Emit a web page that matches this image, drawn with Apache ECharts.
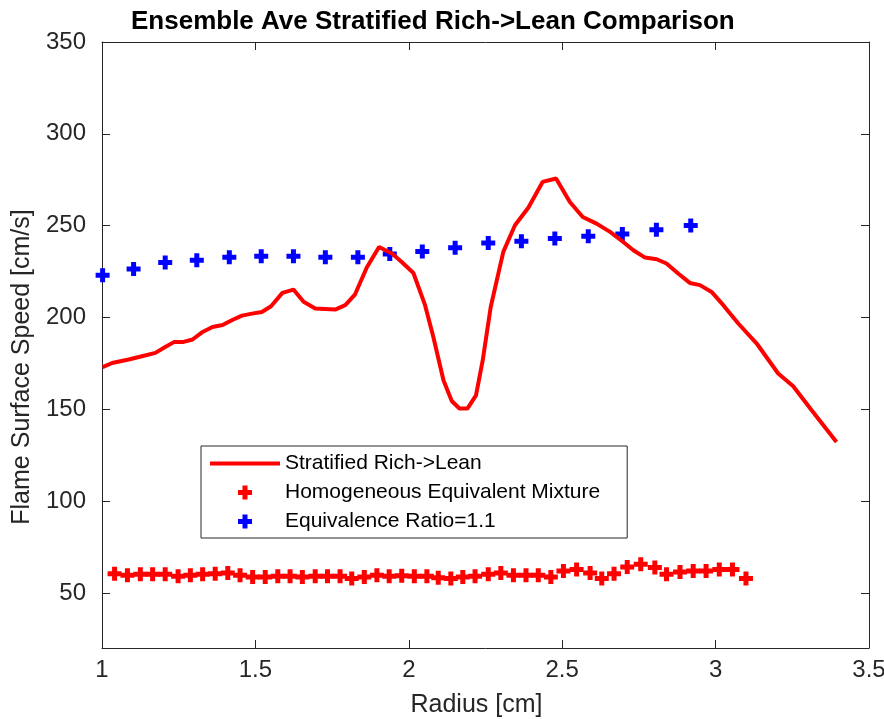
<!DOCTYPE html>
<html>
<head>
<meta charset="utf-8">
<title>Ensemble Ave Stratified Rich->Lean Comparison</title>
<script src="https://cdn.jsdelivr.net/npm/echarts@6.0.0/dist/echarts.min.js"></script>
<style>
    html, body { margin: 0; padding: 0; background: #fff; }
    #chart { width: 884px; height: 719px; }
</style>
</head>
<body>
<div id="chart"></div>
<script>
    // Stratified Rich->Lean (red line)
    var stratR = [1.002, 1.033, 1.087, 1.130, 1.174, 1.206, 1.236, 1.266, 1.295, 1.326,
        1.360, 1.393, 1.423, 1.456, 1.489, 1.521, 1.551, 1.588, 1.624, 1.657,
        1.695, 1.760, 1.793, 1.825, 1.863, 1.903, 1.945, 1.977, 2.015, 2.053,
        2.080, 2.113, 2.140, 2.165, 2.191, 2.219, 2.241, 2.267, 2.308, 2.346,
        2.390, 2.436, 2.480, 2.525, 2.567, 2.612, 2.656, 2.699, 2.732, 2.770,
        2.808, 2.840, 2.878, 2.916, 2.949, 2.987, 3.025, 3.074, 3.134, 3.204,
        3.253, 3.313, 3.394];
    var stratS = [173.0, 175.2, 177.1, 178.9, 180.7, 183.9, 186.7, 186.7, 188.0, 191.9,
        194.8, 195.9, 198.5, 201.0, 202.1, 203.0, 206.1, 213.4, 215.2, 208.5,
        204.9, 204.3, 206.7, 212.6, 227.2, 238.4, 234.8, 230.2, 224.2, 206.7,
        189.4, 165.8, 154.5, 150.4, 150.4, 157.6, 176.7, 205.7, 235.7, 250.2,
        259.9, 273.8, 275.7, 262.9, 254.7, 251.1, 246.6, 241.1, 236.6, 232.6,
        231.7, 229.4, 223.9, 218.8, 217.6, 213.9, 206.7, 196.7, 185.8, 169.5,
        162.5, 149.5, 132.2];

    // Homogeneous Equivalent Mixture (red +)
    var homR = [1.041, 1.083, 1.125, 1.165, 1.206, 1.248, 1.288, 1.328, 1.369, 1.410,
        1.450, 1.491, 1.532, 1.573, 1.613, 1.653, 1.695, 1.735, 1.776, 1.814,
        1.855, 1.896, 1.936, 1.977, 2.018, 2.059, 2.096, 2.137, 2.176, 2.216,
        2.259, 2.300, 2.341, 2.382, 2.422, 2.463, 2.504, 2.547, 2.591, 2.629,
        2.669, 2.712, 2.756, 2.802, 2.840, 2.884, 2.927, 2.969, 3.012, 3.055,
        3.099];
    var homS = [60.5, 59.6, 60.1, 60.1, 60.1, 59.1, 59.6, 60.1, 60.5, 60.9,
        59.6, 58.7, 58.7, 59.1, 59.1, 58.7, 59.1, 59.1, 59.1, 57.8,
        58.7, 59.6, 59.1, 59.4, 59.1, 59.1, 58.3, 57.8, 58.7, 59.1,
        60.1, 60.9, 59.6, 59.6, 59.6, 58.7, 61.9, 62.7, 60.9, 57.8,
        60.5, 64.1, 65.6, 63.8, 60.1, 61.4, 61.9, 61.9, 62.7, 62.7,
        57.8];

    // Equivalence Ratio=1.1 (blue +)
    var eqR = [1.002, 1.103, 1.206, 1.309, 1.415, 1.519, 1.624, 1.728, 1.834, 1.938,
        2.044, 2.151, 2.259, 2.367, 2.476, 2.585, 2.696, 2.807, 2.919];
    var eqS = [223.0, 226.4, 229.9, 231.2, 232.8, 233.3, 233.3, 232.8, 232.8, 234.6,
        235.9, 237.9, 240.6, 241.5, 243.0, 244.2, 245.5, 247.7, 250.1];

    var yTicks = [50, 100, 150, 200, 250, 300, 350];

    function pairs(xs, ys) {
        return xs.map(function (x, i) { return [x, ys[i]]; });
    }

    var plus = 'path://M4.5,0H9.5V4.5H14V9.5H9.5V14H4.5V9.5H0V4.5H4.5Z';
    var lineIcon = 'path://M0,0H70V4H0Z';
    var font = "'Liberation Sans', Arial, Helvetica, sans-serif";
    var axisColor = '#262626';

    var myChart = echarts.init(document.getElementById('chart'));

    var option = {
        animation: false,
        backgroundColor: '#fff',
        textStyle: { fontFamily: font },
        title: {
            text: 'Ensemble Ave Stratified Rich->Lean Comparison',
            left: 131,
            top: 9,
            padding: 0,
            textStyle: { fontFamily: font, fontSize: 26, fontWeight: 'bold', color: '#000' }
        },
        grid: {
            left: 102,
            right: 15,
            top: 42,
            bottom: 71,
            containLabel: false,
            outerBoundsMode: 'none'
        },
        legend: {
            orient: 'vertical',
            left: 201,
            top: 446,
            padding: [7, 27, 6, 9],
            itemWidth: 70,
            itemHeight: 14,
            itemGap: 8,
            symbolKeepAspect: true,
            borderColor: axisColor,
            borderWidth: 1,
            borderRadius: 0,
            backgroundColor: '#fff',
            textStyle: { fontFamily: font, fontSize: 21, color: '#000' },
            data: [
                { name: 'Stratified Rich->Lean', icon: lineIcon },
                'Homogeneous Equivalent Mixture',
                'Equivalence Ratio=1.1'
            ]
        },
        xAxis: [
            {
                type: 'value',
                min: 1,
                max: 3.5,
                interval: 0.5,
                name: 'Radius [cm]',
                nameLocation: 'middle',
                nameGap: 45,
                nameTextStyle: { fontFamily: font, fontSize: 25, color: axisColor, padding: [0, 18, 0, 0] },
                axisLine: { show: true, lineStyle: { color: axisColor, width: 1 } },
                axisTick: { show: true, inside: true, length: 8, lineStyle: { color: axisColor } },
                axisLabel: { fontFamily: font, fontSize: 24, color: axisColor, margin: 10 },
                splitLine: { show: false }
            },
            {
                type: 'value',
                position: 'top',
                min: 1,
                max: 3.5,
                interval: 0.5,
                axisLine: { show: true, lineStyle: { color: axisColor, width: 1 } },
                axisTick: { show: true, inside: true, length: 8, lineStyle: { color: axisColor } },
                axisLabel: { show: false },
                splitLine: { show: false }
            }
        ],
        yAxis: [
            {
                type: 'value',
                min: 20,
                max: 350,
                name: 'Flame Surface Speed [cm/s]',
                nameLocation: 'middle',
                nameGap: 60,
                nameTextStyle: { fontFamily: font, fontSize: 25, color: axisColor, padding: [0, 44, 0, 0] },
                axisLine: { show: true, lineStyle: { color: axisColor, width: 1 } },
                axisTick: { show: true, inside: true, length: 8, customValues: yTicks, lineStyle: { color: axisColor } },
                axisLabel: { fontFamily: font, fontSize: 24, color: axisColor, margin: 16, customValues: yTicks },
                splitLine: { show: false }
            },
            {
                type: 'value',
                position: 'right',
                min: 20,
                max: 350,
                axisLine: { show: true, lineStyle: { color: axisColor, width: 1 } },
                axisTick: { show: true, inside: true, length: 8, customValues: yTicks, lineStyle: { color: axisColor } },
                axisLabel: { show: false },
                splitLine: { show: false }
            }
        ],
        series: [
            {
                name: 'Stratified Rich->Lean',
                type: 'line',
                data: pairs(stratR, stratS),
                symbol: 'none',
                smooth: false,
                lineStyle: { color: '#ff0000', width: 4 },
                itemStyle: { color: '#ff0000' }
            },
            {
                name: 'Homogeneous Equivalent Mixture',
                type: 'scatter',
                data: pairs(homR, homS),
                symbol: plus,
                symbolSize: 14,
                itemStyle: { color: '#ff0000', opacity: 1 }
            },
            {
                name: 'Equivalence Ratio=1.1',
                type: 'scatter',
                data: pairs(eqR, eqS),
                symbol: plus,
                symbolSize: 14,
                itemStyle: { color: '#0000ff', opacity: 1 }
            }
        ]
    };

    myChart.setOption(option);
</script>
</body>
</html>
